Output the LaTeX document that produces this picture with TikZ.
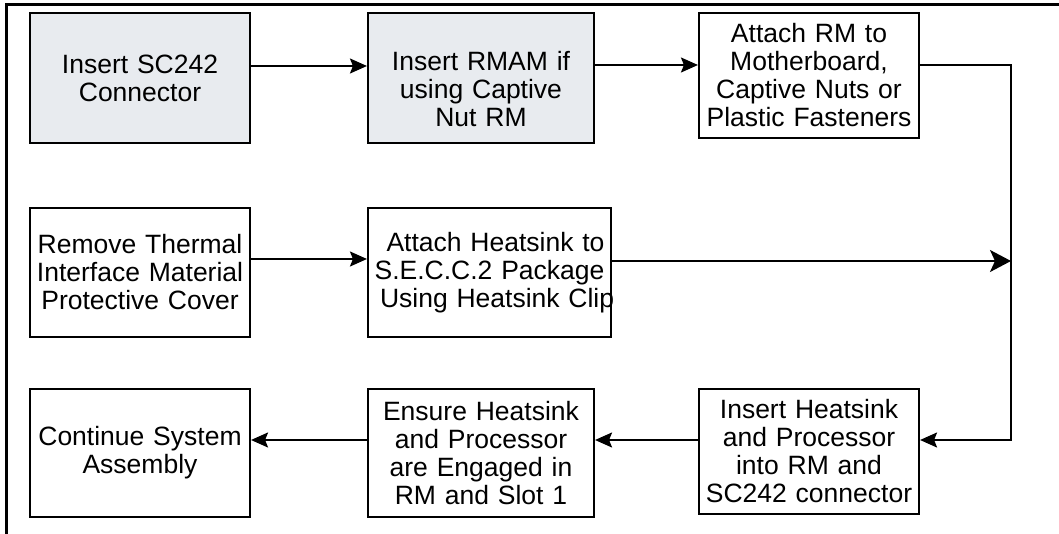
\documentclass[tikz,border=0pt]{standalone}
\usepackage{fontspec}
\setmainfont{Liberation Sans}
\usetikzlibrary{arrows.meta}
\definecolor{boxgray}{RGB}{232,235,239}
\newcommand{\boxfont}{\fontsize{26.5}{28}\selectfont}
\tikzset{
  stepbox/.style={draw, line width=2.1pt, rectangle, inner sep=0pt, align=center, font=\boxfont},
  grayfill/.style={fill=boxgray},
  conn/.style={line width=2pt},
  arrsmall/.style={conn, -{Stealth[length=17pt,width=15pt,inset=3pt]}},
  arrbig/.style={conn, -{Stealth[length=21pt,width=22pt,inset=5pt]}},
  frameline/.style={line width=3pt}
}
\begin{document}
\begin{tikzpicture}[x=1pt,y=-1pt]
\useasboundingbox (0,0) rectangle (1059,534);
\coordinate (ftl) at (6,5);
\coordinate (ftr) at (1059,5);
\coordinate (fbl) at (6,534);
\draw[frameline] (ftr) -- (ftl) -- (fbl);

\node[stepbox,grayfill,text width=220pt,minimum height=130pt] (B1) at (140,78) {Insert SC242\\Connector};
\node[stepbox,grayfill,text width=226pt,minimum height=130pt] (B2) at (481,78) {\rule{0pt}{41pt}Insert RMAM if\\using Captive\\Nut RM};
\node[stepbox,text width=220pt,minimum height=125pt] (B3) at (809,75.5) {Attach RM to\\Motherboard,\\Captive Nuts or\\Plastic Fasteners};
\node[stepbox,text width=220pt,minimum height=129pt] (B4) at (140,272.5) {Remove Thermal\\Interface Material\\Protective Cover};
\node[stepbox,text width=243pt,minimum height=129pt] (B5) at (489.5,272.5) {\mbox{\hspace*{12pt}Attach Heatsink to}\\S.E.C.C.2 Package\\\mbox{\hspace*{12pt}Using Heatsink Clip}};
\node[stepbox,text width=220pt,minimum height=128pt] (B6) at (140,453) {Continue System\\Assembly};
\node[stepbox,text width=226pt,minimum height=128pt] (B7) at (481,453) {Ensure Heatsink\\and Processor\\are Engaged in\\RM and Slot 1};
\node[stepbox,text width=220pt,minimum height=125pt] (B8) at (809,451.5) {Insert Heatsink\\and Processor\\into RM and\\SC242 connector};

\coordinate (J) at (1011,261);

\draw[arrsmall] (B1.east |- 0,66) -- (B2.west |- 0,66);
\draw[arrsmall] (B2.east |- 0,65) -- (B3.west |- 0,65);
\draw[arrsmall] (B3.east |- 0,65) -| (1011,440) -- (B8.east |- 0,440);
\draw[arrsmall] (B4.east |- 0,259) -- (B5.west |- 0,259);
\draw[arrbig] (B5.east |- J) -- (J);
\draw[arrsmall] (B8.west |- 0,440) -- (B7.east |- 0,440);
\draw[arrsmall] (B7.west |- 0,440) -- (B6.east |- 0,440);
\end{tikzpicture}
\end{document}
